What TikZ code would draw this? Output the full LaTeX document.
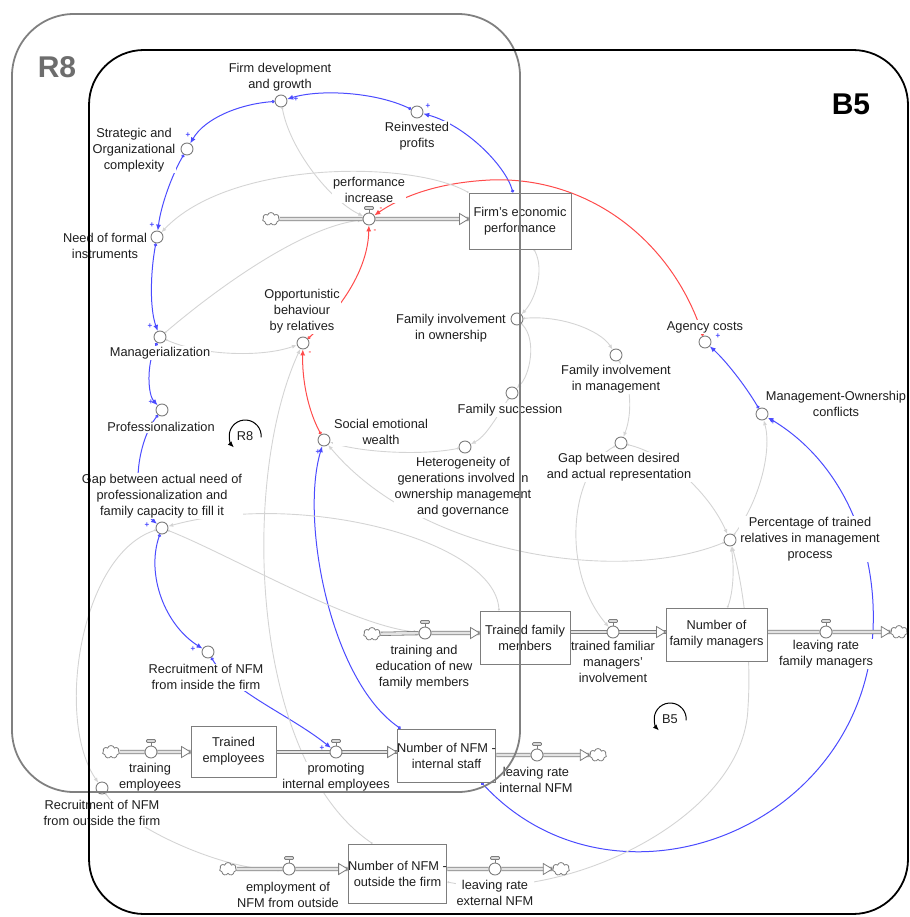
\documentclass[tikz,border=0pt]{standalone}
\usepackage{fontspec}
\setmainfont{Liberation Sans}
\usetikzlibrary{arrows.meta,shapes.symbols,calc}

\definecolor{linkblue}{RGB}{75,75,255}
\definecolor{linkred}{RGB}{255,75,75}
\definecolor{linkgray}{RGB}{212,212,212}
\definecolor{symgray}{RGB}{125,125,125}
\definecolor{txt}{RGB}{30,30,30}
\definecolor{frameR}{RGB}{128,128,128}

\pgfdeclarelayer{links}
\pgfdeclarelayer{labels}
\pgfdeclarelayer{pipes}
\pgfdeclarelayer{top}
\pgfsetlayers{links,labels,pipes,main,top}

\tikzset{
  every node/.style={font=\fontsize{12.8}{16}\selectfont, text=txt},
  lbl/.style={fill=white, inner sep=0.8pt, align=center},
  aux/.style={circle, draw=symgray, fill=white, line width=0.9pt, minimum size=12pt, inner sep=0pt},
  valve/.style={circle, draw=symgray, fill=white, line width=0.9pt, minimum size=12pt, inner sep=0pt},
  stock/.style={rectangle, draw=symgray, fill=white, line width=0.9pt, align=center, inner sep=0pt},
  sink/.style={cloud, cloud puffs=7, aspect=1.3, draw=symgray, fill=white, line width=0.8pt,
    minimum width=17pt, minimum height=13pt, inner sep=0pt},
  pipe/.style={draw=symgray, line width=0.8pt, double=gray!22, double distance=2.6pt},
  glink/.style={draw=linkgray, line width=0.9pt,
    arrows={Circle[open,length=2pt,width=2pt]-Latex[length=5pt,width=4pt]}},
  blink/.style={draw=linkblue, line width=1pt,
    arrows={Circle[open,length=3.2pt,width=3.2pt]-Latex[length=6pt,width=5pt]}},
  rlink/.style={draw=linkred, line width=1pt,
    arrows={Circle[open,length=3.2pt,width=3.2pt]-Latex[length=6pt,width=5pt]}},
  pol/.style={font=\fontsize{8}{8}\selectfont\bfseries, inner sep=0pt},
  looparrow/.style={draw=black, line width=1pt, arrows={-Latex[length=6pt,width=5pt]}},
  loopsym/.style={circle, minimum size=32pt, inner sep=0pt},
  frametitle/.style={font=\fontsize{30}{36}\selectfont\bfseries, inner sep=0pt},
  flowtip/.pic={\draw[symgray, fill=white, line width=0.8pt] (0,0) -- (-9,-5.5) -- (-9,5.5) -- cycle;},
}

\begin{document}
\begin{tikzpicture}[x=1pt,y=-1pt]
\useasboundingbox (0,0) rectangle (909,917);

% ---------- stocks ----------
\node[stock, minimum width=102pt, minimum height=56pt] (fep) at (520,221) {Firm's economic\\performance};
\node[stock, minimum width=90pt, minimum height=53pt] (tfm) at (525,637.5) {Trained family\\members};
\node[stock, minimum width=101pt, minimum height=53pt] (nfmgr) at (716.5,634.5) {Number of\\family managers};
\node[stock, minimum width=85pt, minimum height=51pt] (tem) at (233.5,751.5) {Trained\\employees};
\node[stock, minimum width=85pt, minimum height=53pt] (nis) at (446.5,755.5) {Number of NFM -\\internal staff};
\node[stock, minimum width=95pt, minimum height=59pt] (nos) at (397.5,873.5) {Number of NFM -\\outside the firm};

% ---------- flows (valves) ----------
\node[valve] (pi) at (369,219) {};
\node[valve] (tev) at (425,633) {};
\node[valve] (tfmi) at (613,632) {};
\node[valve] (lrfm) at (826,632) {};
\node[valve] (te) at (151,752) {};
\node[valve] (pie) at (336,752) {};
\node[valve] (lrin) at (537,755) {};
\node[valve] (enfo) at (289,869) {};
\node[valve] (lren) at (495,869) {};
\foreach \v in {pi,tev,tfmi,lrfm,te,pie,lrin,enfo,lren}{
  \draw[symgray, line width=0.8pt] (\v.north) -- ++(0,-3);
  \draw[symgray, fill=gray!30, line width=0.8pt, rounded corners=1pt]
    ($(\v.north)+(-4.5,-3)$) rectangle ($(\v.north)+(4.5,-6)$);
}

% ---------- sources and sinks ----------
\node[sink] (cpi) at (271,219) {};
\node[sink] (ctev) at (372,634) {};
\node[sink] (clrfm) at (899,632) {};
\node[sink] (cte) at (111,752) {};
\node[sink] (clrin) at (598,755) {};
\node[sink] (cenfo) at (228,869) {};
\node[sink] (clren) at (561,869) {};

% ---------- auxiliaries ----------
\node[aux] (fdg) at (281,101) {};
\node[aux] (rp) at (417,112) {};
\node[aux] (soc) at (187,149) {};
\node[aux] (nfi) at (157,237) {};
\node[aux] (opp) at (303,343) {};
\node[aux] (mgr) at (160,337) {};
\node[aux] (prof) at (162,410) {};
\node[aux] (gapa) at (162,528) {};
\node[aux] (sew) at (324,440) {};
\node[aux] (fio) at (517,319) {};
\node[aux] (fim) at (616,355) {};
\node[aux] (fs) at (512,393) {};
\node[aux] (het) at (465,447) {};
\node[aux] (gapd) at (621,443) {};
\node[aux] (ac) at (705,342) {};
\node[aux] (moc) at (762,414) {};
\node[aux] (ptr) at (730,540) {};
\node[aux] (rnfi) at (208,652) {};
\node[aux] (rnfo) at (102,788) {};

% ---------- loop markers ----------
\node[loopsym] (r8loop) at (245,436) {R8};
\draw[looparrow] (r8loop.-5) arc[start angle=-5, end angle=225, radius=16pt];
\node[loopsym] (b5loop) at (670,719) {B5};
\draw[looparrow] (b5loop.-5) arc[start angle=-5, end angle=225, radius=16pt];

% ---------- polarity marks ----------
\node[pol, text=linkblue] (s1) at (428,106) {+};
\node[pol, text=linkblue] (s2) at (296,99) {+};
\node[pol, text=linkblue] (s3) at (188,135) {+};
\node[pol, text=linkblue] (s4) at (152,225) {+};
\node[pol, text=linkblue] (s5) at (150,326) {+};
\node[pol, text=linkblue] (s6) at (151,402) {+};
\node[pol, text=linkblue] (s7) at (147,525) {+};
\node[pol, text=linkblue] (s8) at (193,649) {+};
\node[pol, text=linkblue] (s9) at (322,748) {+};
\node[pol, text=linkblue] (s10) at (318,452) {+};
\node[pol, text=linkblue] (s11) at (773,422) {+};
\node[pol, text=linkblue] (s12) at (718,336) {+};
\node[pol, text=linkred] (s13) at (381,209) {-};
\node[pol, text=linkred] (s14) at (375,231) {-};
\node[pol, text=linkred] (s15) at (310,353) {-};

% ---------- causal links ----------
\begin{pgfonlayer}{links}
  % reinforcing chain
  \draw[blink] ([xshift=-7pt]fep.north) .. controls (505,165) and (465,125) .. (rp);
  \draw[blink] (rp) .. controls (375,92) and (320,89) .. (fdg);
  \draw[blink] (fdg) .. controls (240,104) and (205,118) .. (soc);
  \draw[blink] (soc) .. controls (172,175) and (161,205) .. (nfi);
  \draw[blink] (nfi) .. controls (150,275) and (150,310) .. (mgr);
  \draw[blink] (mgr) .. controls (146,365) and (148,395) .. (prof);
  \draw[blink] (prof) .. controls (138,440) and (128,500) .. (gapa);
  \draw[blink] (gapa) .. controls (146,575) and (165,625) .. (rnfi);
  \draw[blink] (rnfi) .. controls (232,692) and (290,715) .. (pie);
  \draw[blink] ([xshift=4pt]nis.north west) .. controls (330,680) and (300,520) .. (sew);
  \coordinate (bturn) at (873,630);
  \draw[blink] ([xshift=-15pt]nis.south east) .. controls (613,925) and (863,832) .. (bturn)
     .. controls (877,545) and (842,462) .. (moc);
  \draw[blink] (moc) .. controls (745,385) and (725,360) .. (ac);
  % negative links
  \coordinate (rtop) at (490,180);
  \draw[rlink] (ac) .. controls (672,241) and (589,176) .. (rtop)
     .. controls (450,182) and (410,191) .. (pi);
  \draw[rlink] (opp) .. controls (340,310) and (368,270) .. (pi);
  \draw[rlink] (sew) .. controls (308,410) and (302,380) .. (opp);
  % other influences
  \draw[glink] (fep.north west) .. controls (410,160) and (230,160) .. (nfi);
  \draw[glink] (fdg) .. controls (290,150) and (330,200) .. (pi);
  \draw[glink] (mgr) .. controls (215,290) and (300,228) .. (pi);
  \draw[glink] (mgr) .. controls (200,355) and (260,358) .. (opp);
  \draw[glink] ([xshift=-25pt]nos.north) .. controls (250,760) and (240,480) .. (opp);
  \draw[glink] ([xshift=14pt]fep.south) .. controls (545,270) and (535,300) .. (fio);
  \draw[glink] (fio) .. controls (560,315) and (600,330) .. (fim);
  \draw[glink] (fio) .. controls (537,340) and (530,375) .. (fs);
  \draw[glink] (fs) .. controls (495,420) and (485,437) .. (het);
  \draw[glink] (het) .. controls (420,456) and (360,452) .. (sew);
  \draw[glink] (fim) .. controls (632,385) and (632,415) .. (gapd);
  \draw[glink] (gapd) .. controls (670,455) and (710,495) .. (ptr);
  \draw[glink] (gapd) .. controls (570,470) and (560,570) .. (tfmi);
  \draw[glink] (ptr) .. controls (760,500) and (772,450) .. (moc);
  \draw[glink] ([xshift=11pt]nfmgr.north) .. controls (734,590) and (734,565) .. (ptr);
  \coordinate (gturn) at (748,707);
  \draw[glink] ([yshift=-8.5pt]nos.east) .. controls (560,905) and (745,820) .. (gturn)
     .. controls (752,650) and (742,580) .. (ptr);
  \draw[glink] (ptr) .. controls (620,585) and (420,555) .. (sew);
  \draw[glink] ([xshift=-26pt]tfm.north) .. controls (495,540) and (300,490) .. (gapa);
  \draw[glink] (gapa) .. controls (230,555) and (350,625) .. (tev);
  \draw[glink] (gapa) .. controls (80,555) and (55,720) .. (rnfo);
  \draw[glink] (rnfo) .. controls (130,830) and (230,872) .. (enfo);
\end{pgfonlayer}

% ---------- variable names ----------
\begin{pgfonlayer}{labels}
  \node[lbl] (fdg-t) at (280,77) {Firm development\\and growth};
  \node[lbl] (rp-t) at (417,136) {Reinvested\\profits};
  \node[lbl] (soc-t) at (134,150) {Strategic and\\Organizational\\complexity};
  \node[lbl] (nfi-t) at (105,246) {Need of formal\\instruments};
  \node[lbl] (pi-t) at (369,190) {performance\\increase};
  \node[lbl] (opp-t) at (302,311) {Opportunistic\\behaviour\\by relatives};
  \node[lbl] (mgr-t) at (160,353) {Managerialization};
  \node[lbl] (prof-t) at (161,427) {Professionalization};
  \node[lbl] (gapa-t) at (162,496) {Gap between actual need of\\professionalization and\\family capacity to fill it};
  \node[lbl] (sew-t) at (381,432) {Social emotional\\wealth};
  \node[lbl] (fio-t) at (451,328) {Family involvement\\in ownership};
  \node[lbl] (fim-t) at (616,379) {Family involvement\\in management};
  \node[lbl] (fs-t) at (510,410) {Family succession};
  \node[lbl] (het-t) at (463,487) {Heterogeneity of\\generations involved in\\ownership management\\and governance};
  \node[lbl] (gapd-t) at (619,467) {Gap between desired\\and actual representation};
  \node[lbl] (ac-t) at (705,327) {Agency costs};
  \node[lbl] (moc-t) at (836,404) {Management-Ownership\\conflicts};
  \node[lbl] (ptr-t) at (810,539) {Percentage of trained\\relatives in management\\process};
  \node[lbl] (tev-t) at (424,667) {training and\\education of new\\family members};
  \node[lbl] (tfmi-t) at (613,662) {trained familiar\\managers'\\involvement};
  \node[lbl] (lrfm-t) at (826,654) {leaving rate\\family managers};
  \node[lbl] (rnfi-t) at (206,677) {Recruitment of NFM\\from inside the firm};
  \node[lbl] (te-t) at (150,777) {training\\employees};
  \node[lbl] (pie-t) at (336,777) {promoting\\internal employees};
  \node[lbl] (lrin-t) at (536,780) {leaving rate\\internal NFM};
  \node[lbl] (rnfo-t) at (102,813) {Recruitment of NFM\\from outside the firm};
  \node[lbl] (enfo-t) at (288,895) {employment of\\NFM from outside};
  \node[lbl] (lren-t) at (495,893) {leaving rate\\external NFM};
\end{pgfonlayer}

% ---------- material flows ----------
\begin{pgfonlayer}{pipes}
  \draw[pipe] (cpi) -- (pi) -- (fep.west |- pi);
  \pic at (fep.west |- pi) {flowtip};
  \draw[pipe] (ctev) -- (tev) -- (tfm.west |- tev);
  \pic at (tfm.west |- tev) {flowtip};
  \draw[pipe] (tfm.east |- tfmi) -- (tfmi) -- (nfmgr.west |- tfmi);
  \pic at (nfmgr.west |- tfmi) {flowtip};
  \draw[pipe] (nfmgr.east |- lrfm) -- (lrfm) -- (clrfm);
  \pic at (clrfm.west) {flowtip};
  \draw[pipe] (cte) -- (te) -- (tem.west |- te);
  \pic at (tem.west |- te) {flowtip};
  \draw[pipe] (tem.east |- pie) -- (pie) -- (nis.west |- pie);
  \pic at (nis.west |- pie) {flowtip};
  \draw[pipe] (nis.east |- lrin) -- (lrin) -- (clrin);
  \pic at (clrin.west) {flowtip};
  \draw[pipe] (cenfo) -- (enfo) -- (nos.west |- enfo);
  \pic at (nos.west |- enfo) {flowtip};
  \draw[pipe] (nos.east |- lren) -- (lren) -- (clren);
  \pic at (clren.west) {flowtip};
\end{pgfonlayer}

% ---------- loop boundaries ----------
\begin{pgfonlayer}{top}
  \draw[frameR, line width=1.8pt, rounded corners=62pt] (12,14) rectangle (520,792);
  \draw[black, line width=1.8pt, rounded corners=55pt] (89,50) rectangle (908,914);
  \node[frametitle, text=frameR!85!black] (r8t) at (57,67) {R8};
  \node[frametitle, text=black] (b5t) at (851,104) {B5};
\end{pgfonlayer}
\end{tikzpicture}
\end{document}
